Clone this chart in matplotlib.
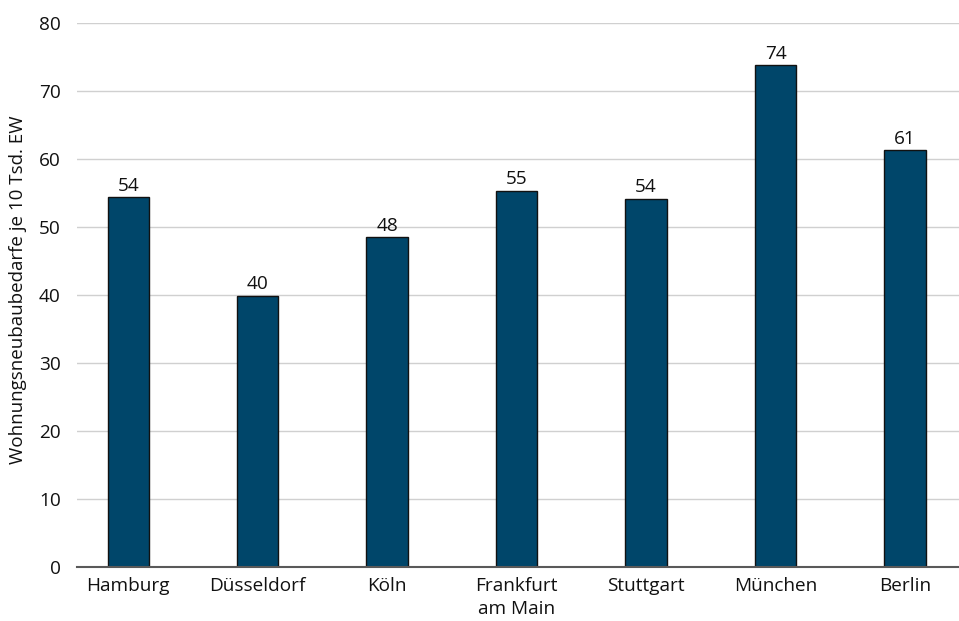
import matplotlib
matplotlib.use("Agg")
import matplotlib.pyplot as plt

cities = ["Hamburg", "Düsseldorf", "Köln", "Frankfurt\nam Main", "Stuttgart", "München", "Berlin"]
values = [54.4, 39.9, 48.5, 55.3, 54.2, 73.8, 61.3]
labels = ["54", "40", "48", "55", "54", "74", "61"]
yticks = [0, 10, 20, 30, 40, 50, 60, 70, 80]
ylabel = "Wohnungsneubaubedarfe je 10 Tsd. EW"

plt.rcParams['font.family'] = ['Open Sans', 'DejaVu Sans']

fig = plt.figure(figsize=(9.59, 6.21), dpi=100)
ax = fig.add_axes([77.3/959, 1-567.3/621, 1-77.3/959, (567.3-23.3)/621])

x = list(range(len(cities)))
bars = ax.bar(x, values, width=0.32, color="#00466A", edgecolor="#111111", linewidth=1.0, zorder=3)
for xi, v, lab in zip(x, values, labels):
    ax.annotate(lab, (xi, v), xytext=(0, 2), textcoords="offset points",
                ha="center", va="bottom", fontsize=13.7, color="#111111")

ax.set_ylim(0, 80)
ax.set_xlim(-0.394, 6.417)
ax.set_yticks(yticks)
ax.set_xticks(x)
ax.set_xticklabels(cities, fontsize=13.7, color="#111111", linespacing=1.35, va="top")
ax.tick_params(axis='y', labelsize=13.7, colors="#111111", length=0, pad=12)
ax.tick_params(axis='x', length=0, pad=7)
ax.yaxis.grid(True, color="#d0d0d0", linewidth=1.0, zorder=0)
ax.set_axisbelow(True)
for s in ["top", "right", "left"]:
    ax.spines[s].set_visible(False)
ax.spines["bottom"].set_color("#595959")
ax.spines["bottom"].set_linewidth(1.5)
ax.spines["bottom"].set_zorder(4)
fig.text(18/959, 1-290/621, ylabel, rotation=90, ha="center", va="center", fontsize=13.5, color="#111111")

fig.savefig("out.png", dpi=100)
